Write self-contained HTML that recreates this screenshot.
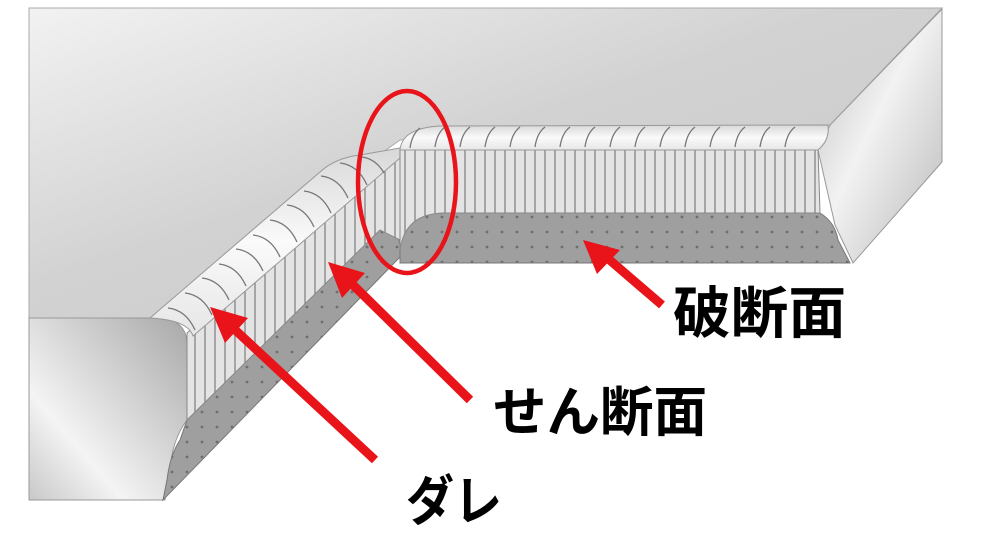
<!DOCTYPE html>
<html><head><meta charset="utf-8"><style>
html,body{margin:0;padding:0;background:#fff;}
svg{display:block;}
text{font-family:"Liberation Sans","Noto Sans CJK JP",sans-serif;font-weight:bold;fill:#000;}
</style></head><body>
<svg width="992" height="546" viewBox="0 0 992 546" xmlns="http://www.w3.org/2000/svg">
<defs>
<linearGradient id="plate" x1="0" y1="0" x2="1" y2="1">
<stop offset="0" stop-color="#f2f2f2"/><stop offset="0.45" stop-color="#d2d2d2"/><stop offset="1" stop-color="#c8c8c8"/>
</linearGradient>
<linearGradient id="block" x1="0" y1="1" x2="1" y2="0">
<stop offset="0" stop-color="#c8c8c8"/><stop offset="0.3" stop-color="#f4f4f4"/><stop offset="1" stop-color="#a8a8a8"/>
</linearGradient>
<linearGradient id="wedge" x1="0" y1="0" x2="1" y2="1">
<stop offset="0" stop-color="#bdbdbd"/><stop offset="0.45" stop-color="#f2f2f2"/><stop offset="1" stop-color="#b8b8b8"/>
</linearGradient>
<linearGradient id="ridge" x1="0" y1="0" x2="0" y2="1">
<stop offset="0" stop-color="#d8d8d8"/><stop offset="0.5" stop-color="#fafafa"/><stop offset="1" stop-color="#e6e6e6"/>
</linearGradient>
<pattern id="stripes" width="10" height="20" patternUnits="userSpaceOnUse">
<rect width="10" height="20" fill="#e4e4e4"/><line x1="5" y1="0" x2="5" y2="20" stroke="#8a8a8a" stroke-width="1.4"/>
</pattern>
<pattern id="dots" width="15" height="15" patternUnits="userSpaceOnUse">
<rect width="15" height="15" fill="#9f9f9f"/><circle cx="7" cy="7" r="1.4" fill="#6e6e6e"/>
</pattern>
</defs>
<polygon points="29,8 942,8 830,125 400,140 150,318 29,318" fill="url(#plate)" stroke="#aaa"/>
<polygon points="942,9 942,162 853,263 835,225 818,150 830,125" fill="url(#wedge)" stroke="#999"/>
<path d="M29,318 L160,318 Q187,320 187,345 L187,420 Q172,440 170,470 L165,500 L29,500 Z" fill="url(#block)" stroke="#999"/>
<path d="M187,420 L378,230 Q398,228 400,245 L402,255 L163,500 L167,480 Q170,455 180,440 Z" fill="url(#dots)" stroke="#777"/>
<polygon points="187,333 400,155 400,240 380,230 187,420" fill="url(#stripes)" stroke="#888"/>
<path d="M150,318 L320,172 Q335,158 360,155 L400,148 L400,158 L193,336 Q188,320 150,318 Z" fill="url(#ridge)" stroke="#999"/>
<g stroke="#777" fill="none" stroke-width="1.3">
<path d="M168,308 q18,2 27,22"/><path d="M185,293 q18,2 27,22"/><path d="M202,278 q18,2 27,22"/><path d="M219,264 q18,2 27,22"/><path d="M236,249 q18,2 27,22"/><path d="M253,235 q18,2 27,22"/><path d="M270,220 q18,2 27,22"/><path d="M287,205 q18,2 27,22"/><path d="M304,191 q18,2 27,22"/><path d="M321,176 q18,2 27,22"/><path d="M340,163 q18,2 27,22"/><path d="M362,157 q14,2 22,16"/>
</g>
<path d="M445,213 L820,213 Q835,222 838,240 L850,263 L400,263 L400,245 Q405,213 445,213 Z" fill="url(#dots)" stroke="#777"/>
<path d="M400,148 L818,148 L820,213 L445,213 Q405,213 400,250 Z" fill="url(#stripes)" stroke="#888"/>
<path d="M400,150 Q402,128 440,126 L828,125 Q830,140 818,150 Z" fill="url(#ridge)" stroke="#999"/>
<g stroke="#777" fill="none" stroke-width="1.3">
<path d="M420,128 q-8,6 -10,20"/><path d="M445,127 q-8,6 -10,20"/><path d="M470,127 q-8,6 -10,20"/><path d="M495,127 q-8,6 -10,20"/><path d="M520,127 q-8,6 -10,20"/><path d="M545,127 q-8,6 -10,20"/><path d="M570,127 q-8,6 -10,20"/><path d="M595,127 q-8,6 -10,20"/><path d="M620,127 q-8,6 -10,20"/><path d="M645,127 q-8,6 -10,20"/><path d="M670,127 q-8,6 -10,20"/><path d="M695,127 q-8,6 -10,20"/><path d="M720,127 q-8,6 -10,20"/><path d="M745,127 q-8,6 -10,20"/><path d="M770,127 q-8,6 -10,20"/><path d="M795,127 q-8,6 -10,20"/>
</g>
<ellipse cx="407" cy="182" rx="49" ry="91" fill="none" stroke="#e8141a" stroke-width="4.5"/>
<g stroke="#e8141a" stroke-width="9" fill="#e8141a">
<line x1="375" y1="460" x2="232" y2="327"/>
<line x1="470" y1="400" x2="348" y2="280"/>
<line x1="662" y1="305" x2="605" y2="256"/>
</g>
<g fill="#e8141a">
<polygon points="210,307 248,318 225,343"/>
<polygon points="328,262 365,273 342,298"/>
<polygon points="583,240 620,250 597,274"/>
</g>
<text x="673" y="333" font-size="56" textLength="173" lengthAdjust="spacingAndGlyphs">破断面</text>
<text x="493" y="431" font-size="54" textLength="214" lengthAdjust="spacingAndGlyphs">せん断面</text>
<text x="406" y="520" font-size="54" textLength="96" lengthAdjust="spacingAndGlyphs">ダレ</text>
</svg>
</body></html>
